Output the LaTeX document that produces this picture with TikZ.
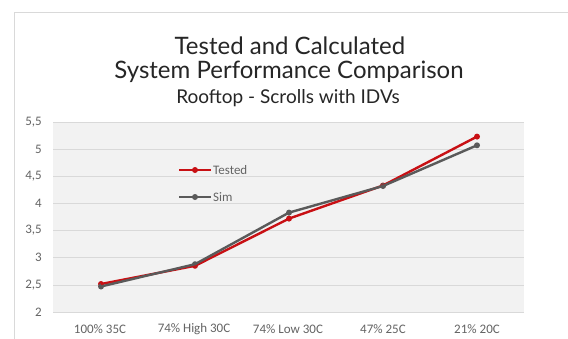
\documentclass[tikz,border=0pt]{standalone}
\usepackage{fontspec}
\setmainfont{Carlito}
\newfontfamily\titlefont{Lato}
\usepackage{xcolor}
\usepackage{tikz}
\usetikzlibrary{positioning}
\definecolor{testedred}{RGB}{200,16,20}
\definecolor{simgray}{RGB}{90,90,90}
\definecolor{gridgray}{RGB}{217,217,217}
\definecolor{plotbg}{RGB}{242,242,242}
\definecolor{labelgray}{RGB}{100,100,100}
\tikzstyle{grid} = [draw=gridgray, line width=0.8pt]
\tikzstyle{ylabel} = [anchor=east, text=labelgray, font=\fontsize{13}{14}\selectfont, inner sep=0pt]
\tikzstyle{xlabel} = [text=labelgray, font=\fontsize{13}{14}\selectfont, inner sep=0pt]
\tikzstyle{dot} = [circle, inner sep=0pt, minimum size=6pt]
\tikzstyle{tested} = [draw=testedred, line width=2.4pt, line join=round]
\tikzstyle{sim} = [draw=simgray, line width=2.4pt, line join=round]

\begin{document}
\begin{tikzpicture}[x=1pt, y=-1pt]
        \useasboundingbox (0,0) rectangle (568,338);
        % Chart frame
        \fill[white] (0,0) rectangle (568,338);
        \draw[gridgray, line width=0.8pt] (14,350) -- (14,12) -- (580,12);
        % Title
        \node[font=\titlefont\fontsize{24}{26}\selectfont, text=black!85] (title) at (290,46) {Tested and Calculated};
        \node[font=\titlefont\fontsize{24}{26}\selectfont, text=black!85] (title2) at (289,72) {System Performance Comparison};
        \node[font=\titlefont\fontsize{19}{21}\selectfont, text=black!85] (subtitle) at (288,98) {Rooftop - Scrolls with IDVs};
        % Plot area and grid
        \fill[plotbg] (53,122) rectangle (524,312);
        \draw[grid] (53,122) -- (524,122);
        \draw[grid] (53,149.1) -- (524,149.1);
        \draw[grid] (53,176.3) -- (524,176.3);
        \draw[grid] (53,203.4) -- (524,203.4);
        \draw[grid] (53,230.6) -- (524,230.6);
        \draw[grid] (53,257.7) -- (524,257.7);
        \draw[grid] (53,284.9) -- (524,284.9);
        \draw[grid] (53,312) -- (524,312);
        % Axis labels
        \node[ylabel] (y55) at (42,122) {5,5};
        \node[ylabel] (y50) at (42,149.1) {5};
        \node[ylabel] (y45) at (42,176.3) {4,5};
        \node[ylabel] (y40) at (42,203.4) {4};
        \node[ylabel] (y35) at (42,230.6) {3,5};
        \node[ylabel] (y30) at (42,257.7) {3};
        \node[ylabel] (y25) at (42,284.9) {2,5};
        \node[ylabel] (y20) at (42,312) {2};
        \node[xlabel] (c1) at (100,329) {100\% 35C};
        \node[xlabel] (c2) at (194,329) {74\% High 30C};
        \node[xlabel] (c3) at (288,329) {74\% Low 30C};
        \node[xlabel] (c4) at (383,329) {47\% 25C};
        \node[xlabel] (c5) at (477,329) {21\% 20C};
        % Place points
        \node[dot, fill=testedred] (t1) at (101,284) {};
        \node[dot, fill=testedred] (t2) at (195,265.8) {};
        \node[dot, fill=testedred] (t3) at (289,218.6) {};
        \node[dot, fill=testedred] (t4) at (383,185.5) {};
        \node[dot, fill=testedred] (t5) at (477,136.6) {};
        \node[dot, fill=simgray] (s1) at (101,286.5) {};
        \node[dot, fill=simgray] (s2) at (195,264.2) {};
        \node[dot, fill=simgray] (s3) at (289,212.6) {};
        \node[dot, fill=simgray] (s4) at (383,186) {};
        \node[dot, fill=simgray] (s5) at (477,145.3) {};
        % Draw series
        \path[tested] (t1.center) -- (t2.center) -- (t3.center) -- (t4.center) -- (t5.center);
        \path[sim] (s1.center) -- (s2.center) -- (s3.center) -- (s4.center) -- (s5.center);
        % Legend
        \coordinate (lt1) at (179,170);
        \coordinate (lt2) at (211,170);
        \node[dot, fill=testedred] (ltm) at (195,170) {};
        \path[tested] (lt1) -- (lt2);
        \node[xlabel, anchor=west, right=2pt of lt2] (ltested) {Tested};
        \coordinate (ls1) at (179,197);
        \coordinate (ls2) at (211,197);
        \node[dot, fill=simgray] (lsm) at (195,197) {};
        \path[sim] (ls1) -- (ls2);
        \node[xlabel, anchor=west, right=2pt of ls2] (lsim) {Sim};
\end{tikzpicture}
\end{document}
